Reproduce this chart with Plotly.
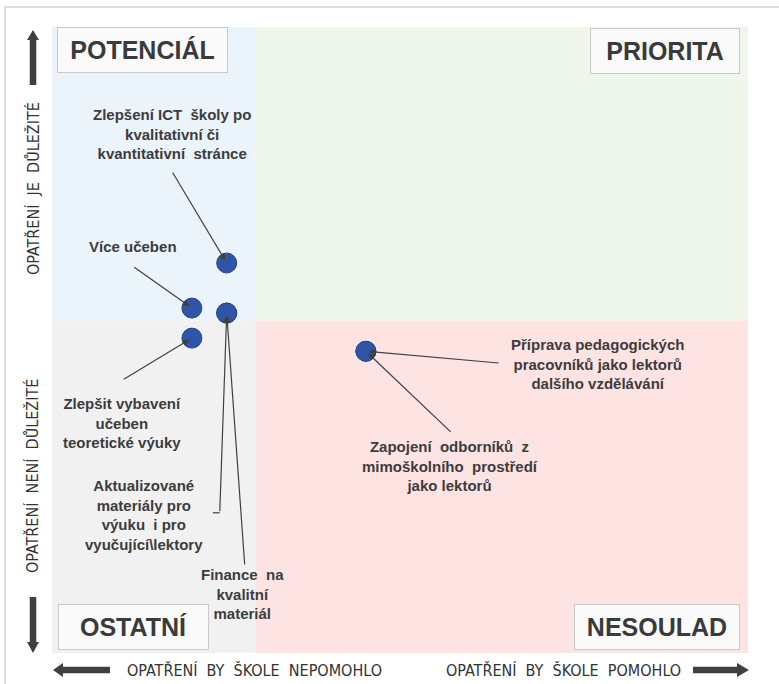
import plotly.graph_objects as go

# opatření a jejich pozice v matici (osa x: pomohlo škole, osa y: důležitost)
opatreni = [
    "Zlepšení ICT  školy po<br>kvalitativní či<br>kvantitativní  stránce",
    "Více učeben",
    "Zlepšit vybavení<br>učeben<br>teoretické výuky",
    "Aktualizované<br>materiály pro<br>výuku  i pro<br>vyučující\\lektory",
    "Finance  na<br>kvalitní<br>materiál",
    "Příprava pedagogických<br>pracovníků jako lektorů<br>dalšího vzdělávání",
    "Zapojení  odborníků  z<br>mimoškolního  prostředí<br>jako lektorů",
]
pomohlo = [25.1, 20.1, 20.1, 25.1, 25.1, 45.1, 45.1]
dulezitost = [62.3, 55.1, 50.3, 54.3, 54.3, 48.2, 48.2]
X_MID = 29.2
Y_MID = 53.1

kvadranty = ["POTENCIÁL", "PRIORITA", "OSTATNÍ", "NESOULAD"]
osa_y = ["OPATŘENÍ  JE  DŮLEŽITÉ", "OPATŘENÍ  NENÍ  DŮLEŽITÉ"]
osa_x = ["OPATŘENÍ  BY  ŠKOLE  NEPOMOHLO", "OPATŘENÍ  BY  ŠKOLE  POMOHLO"]

# umístění popisků (text x,y a začátek čáry x,y) v souřadnicích grafu
popisky_pos = [
    (17.2, 82.9, 17.2, 77.0),
    (11.6, 64.9, 11.6, 61.8),
    (10.1, 36.7, 10.1, 43.6),
    (13.2, 22.0, 24.1, 22.4),
    (27.4, 9.4, 27.7, 13.9),
    (78.4, 46.2, 64.4, 46.3),
    (57.2, 29.9, 57.5, 35.1),
]

W, H = 779, 684
L, R, T, B = 52, 31, 27, 31
PW, PH = W - L - R, H - T - B


def paper(xp, yp):
    return (xp - L) / PW, (H - B - yp) / PH


def arrow(tip, direction, length, shaft, head, head_len):
    # tlusté šipky u os, v pixelech
    tx, ty = tip
    dx, dy = direction
    nx, ny = -dy, dx
    pts = [
        (tx, ty),
        (tx + dx * head_len + nx * head / 2, ty + dy * head_len + ny * head / 2),
        (tx + dx * head_len + nx * shaft / 2, ty + dy * head_len + ny * shaft / 2),
        (tx + dx * length + nx * shaft / 2, ty + dy * length + ny * shaft / 2),
        (tx + dx * length - nx * shaft / 2, ty + dy * length - ny * shaft / 2),
        (tx + dx * head_len - nx * shaft / 2, ty + dy * head_len - ny * shaft / 2),
        (tx + dx * head_len - nx * head / 2, ty + dy * head_len - ny * head / 2),
    ]
    path = "M " + " L ".join("%.4f,%.4f" % paper(x, y) for x, y in pts) + " Z"
    return dict(type="path", xref="paper", yref="paper", path=path,
                fillcolor="#404040", line=dict(width=0), layer="above")


fig = go.Figure()
fig.add_trace(go.Scatter(
    x=pomohlo, y=dulezitost, mode="markers", text=opatreni,
    marker=dict(size=20, color="#2F56A6", line=dict(color="#24468C", width=1)),
    hoverinfo="text", showlegend=False,
))

shapes = [
    dict(type="rect", x0=0, x1=X_MID, y0=Y_MID, y1=100, fillcolor="#EBF3FB"),
    dict(type="rect", x0=X_MID, x1=100, y0=Y_MID, y1=100, fillcolor="#EFF6EC"),
    dict(type="rect", x0=0, x1=X_MID, y0=0, y1=Y_MID, fillcolor="#F1F1F1"),
    dict(type="rect", x0=X_MID, x1=100, y0=0, y1=Y_MID, fillcolor="#FEE3E3"),
]
for s in shapes:
    s.update(xref="x", yref="y", layer="below", line=dict(width=0))

# rámeček obrázku
fx0, fy0 = paper(5, 7)
fx1, fy1 = paper(800, 700)
shapes.append(dict(type="rect", xref="paper", yref="paper", x0=fx0, x1=fx1,
                   y0=fy1, y1=fy0, line=dict(color="#D2D2D2", width=1.5)))
# lomená čára u "Aktualizované materiály"
shapes.append(dict(type="line", xref="x", yref="y", x0=23.1, x1=popisky_pos[3][2],
                   y0=popisky_pos[3][3], y1=popisky_pos[3][3],
                   line=dict(color="#404040", width=1.2)))

shapes += [
    arrow((33, 30), (0, 1), 55, 6.5, 12, 10),
    arrow((33, 653), (0, -1), 56, 6.5, 12, 11),
    arrow((53, 670), (1, 0), 57, 6.5, 14, 10),
    arrow((749, 670), (-1, 0), 56, 6.5, 14, 12),
]

ann = []
lbl_font = dict(family="Liberation Sans, Arial", size=15, color="#3C3C3C")
for txt, (lx, ly, ax, ay), px_, py_ in zip(opatreni, popisky_pos, pomohlo, dulezitost):
    ann.append(dict(x=lx, y=ly, xref="x", yref="y", text="<b>%s</b>" % txt,
                    showarrow=False, font=lbl_font, align="center"))
    ann.append(dict(x=px_, y=py_, xref="x", yref="y", ax=ax, ay=ay,
                    axref="x", ayref="y", text="", showarrow=True,
                    arrowhead=2, arrowsize=1.1, arrowwidth=1.2,
                    arrowcolor="#404040", standoff=3))

box_pos = [(142.5, 50, 171), (665, 51, 150), (133.5, 627, 151), (657, 627, 166)]
for txt, (cx, cy, bw) in zip(kvadranty, box_pos):
    x, y = paper(cx, cy)
    ann.append(dict(x=x, y=y, xref="paper", yref="paper", text="<b>%s</b>" % txt,
                    showarrow=False, width=bw - 2, height=44, borderpad=0,
                    bgcolor="#FAFAFA", bordercolor="#C9C9C9", borderwidth=1,
                    font=dict(family="Liberation Sans, Arial", size=25, color="#3A3A3A"),
                    xanchor="center", yanchor="middle"))

axis_font = dict(family="Liberation Sans Narrow, DejaVu Sans Condensed, Roboto Condensed, Roboto, sans-serif",
                 size=16, color="#333333")
for txt, cy in zip(osa_y, [189, 476]):
    x, y = paper(33, cy)
    ann.append(dict(x=x, y=y, xref="paper", yref="paper", text=txt, textangle=-90,
                    showarrow=False, font=axis_font, xanchor="center", yanchor="middle"))
for txt, cx in zip(osa_x, [254, 563]):
    x, y = paper(cx, 670)
    ann.append(dict(x=x, y=y, xref="paper", yref="paper", text=txt,
                    showarrow=False, font=axis_font, xanchor="center", yanchor="middle"))

fig.update_layout(
    width=W, height=H,
    margin=dict(l=L, r=R, t=T, b=B),
    paper_bgcolor="white", plot_bgcolor="white",
    shapes=shapes, annotations=ann,
    xaxis=dict(range=[0, 100], visible=False, fixedrange=True),
    yaxis=dict(range=[0, 100], visible=False, fixedrange=True),
)

fig.write_html("out.html", config={"displayModeBar": False},
               post_script="document.body.style.margin='0';")
